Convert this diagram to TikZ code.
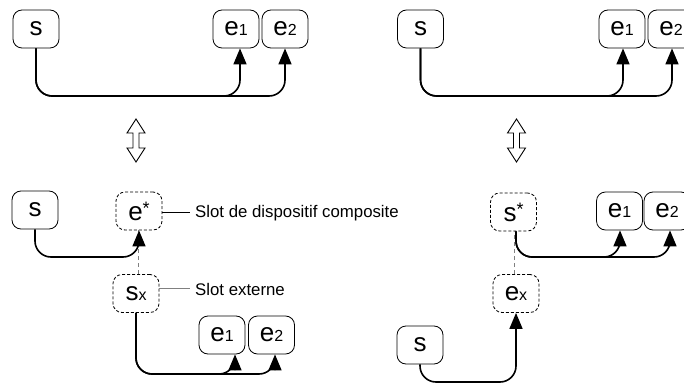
\documentclass[tikz,border=0pt]{standalone}
\usepackage{fontspec}
\setmainfont{Liberation Sans}
\usetikzlibrary{arrows.meta,calc}
\newcommand{\sbx}[1]{{\fontsize{16pt}{16pt}\selectfont #1}}
\newcommand{\spx}{\raisebox{6pt}{\fontsize{18pt}{18pt}\selectfont *}}
\tikzset{
  bx/.style={draw, rounded corners=9pt, minimum width=46pt, minimum height=38pt, inner sep=0pt, font=\fontsize{26pt}{26pt}\selectfont, line width=0.8pt},
  dbx/.style={bx, dashed, dash pattern=on 3pt off 2pt},
  conn/.style={line width=1.6pt, rounded corners=16pt, -{Triangle[length=16pt,width=13pt]}},
  lnk/.style={gray, dashed, line width=0.8pt, dash pattern=on 4pt off 3pt},
  lbl/.style={font=\fontsize{16.8pt}{16.8pt}\selectfont, anchor=west, inner sep=0pt},
  dbl/.style={line width=0.9pt, line join=miter}
}
\begin{document}
\begin{tikzpicture}[x=1pt,y=-1pt]
\useasboundingbox (0,0) rectangle (684,387);
% top left
\node[bx] (a) at (36,29) {s};
\node[bx] (b1) at (236,29) {e\sbx{1}};
\node[bx] (b2) at (285,29) {e\sbx{2}};
\coordinate (ha) at (0,96);
\draw[conn] (a.south) |- ([xshift=4pt]b1.south |- ha) -- ([xshift=4pt]b1.south);
\draw[conn] (a.south) |- (b2.south |- ha) -- (b2.south);
% top right
\node[bx] (c) at (420.5,29) {s};
\node[bx] (d1) at (622,29) {e\sbx{1}};
\node[bx] (d2) at (671,29) {e\sbx{2}};
\draw[conn] (c.south) |- ([xshift=1pt]d1.south |- ha) -- ([xshift=1pt]d1.south);
\draw[conn] (c.south) |- ([xshift=1pt]d2.south |- ha) -- ([xshift=1pt]d2.south);
% double arrows
\foreach \n/\cx in {da/136, db/516.5} {
  \draw[dbl] (\cx,119) -- (\cx+9,133) -- (\cx+3,133) -- (\cx+3,148) -- (\cx+9,148) -- (\cx,162)
     -- (\cx-9,148) -- (\cx-3,148) -- (\cx-3,133) -- (\cx-9,133) -- cycle;
}
% bottom left
\node[bx] (f) at (35,210) {s};
\node[dbx] (g) at (139,211) {e\spx};
\node[dbx] (h) at (136,293.5) {s\sbx{x}};
\draw[lnk] (h.north -| 138,0) -- (g.south -| 138,0);
\coordinate (hb) at (0,257);
\draw[conn] (f.south) |- (g.south |- hb) -- (g.south);
\node[bx] (k1) at (222,335) {e\sbx{1}};
\node[bx] (k2) at (271.5,335) {e\sbx{2}};
\coordinate (hc) at (0,374);
\draw[conn] (h.south) |- ([xshift=13pt]k1.south |- hc) -- ([xshift=13pt]k1.south);
\draw[conn] (h.south) |- ([xshift=3.5pt]k2.south |- hc) -- ([xshift=3.5pt]k2.south);
\coordinate (l1) at (190,212);
\draw[line width=0.8pt] (g.east |- l1) -- (l1);
\node[lbl] (t1) at (195,213) {Slot de dispositif composite};
\coordinate (l2) at (190,288);
\draw[gray, line width=0.8pt] (h.east |- l2) -- (l2);
\node[lbl] (t2) at (195,289) {Slot externe};
% bottom right
\node[dbx] (m) at (513.5,212) {s\spx};
\node[bx] (n1) at (619.5,211) {e\sbx{1}};
\node[bx] (n2) at (667,211) {e\sbx{2}};
\node[dbx] (p) at (516,293.5) {e\sbx{x}};
\draw[lnk] (p.north -| 514,0) -- (m.south -| 514,0);
\draw[conn] ([xshift=2.5pt]m.south) |- ([xshift=0.5pt]n1.south |- hb) -- ([xshift=0.5pt]n1.south);
\draw[conn] ([xshift=2.5pt]m.south) |- ([xshift=3pt]n2.south |- hb) -- ([xshift=3pt]n2.south);
\node[bx] (q) at (420,345) {s};
\coordinate (hd) at (0,382);
\draw[conn] (q.south) |- (p.south |- hd) -- (p.south);
\end{tikzpicture}
\end{document}
